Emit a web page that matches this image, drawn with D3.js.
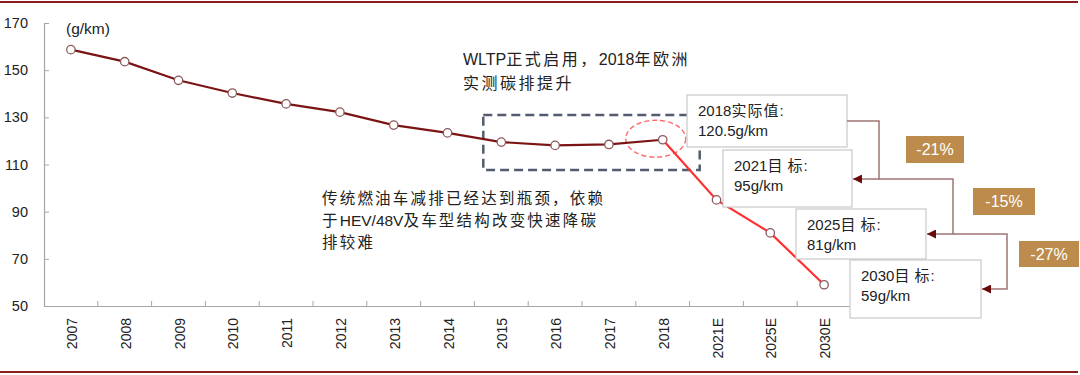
<!DOCTYPE html>
<html>
<head>
<meta charset="utf-8">
<script src="https://cdn.jsdelivr.net/npm/d3@7"></script>
<style>
  body { margin: 0; background: #fff; }
  svg { display: block; font-family: "Liberation Sans", Arial, "Noto Sans CJK SC", sans-serif; }
</style>
</head>
<body>
<div id="chart"></div>
<script>
// categories and values (g/km)
var years = ["2007", "2008", "2009", "2010", "2011", "2012", "2013", "2014", "2015", "2016", "2017", "2018", "2021E", "2025E", "2030E"]
var emissions = [158.7, 153.6, 145.7, 140.3, 135.7, 132.2, 126.7, 123.4, 119.5, 118.1, 118.5, 120.5, 95, 81, 59]
var yTicks = [50, 70, 90, 110, 130, 150, 170]

var noteLines = [["2018实际值:", "120.5g/km"], ["2021目 标:", "95g/km"], ["2025目 标:", "81g/km"], ["2030目 标:", "59g/km"]]
var changeLabels = ["-21%", "-15%", "-27%"]

var width = 1080,
  height = 375

var svg = d3.select("#chart").append("svg")
  .attr("width", width)
  .attr("height", height)

var x = d3.scaleBand()
  .domain(years)
  .range([44, 851])

var y = d3.scaleLinear()
  .domain([50, 170])
  .range([306, 23])

function cx(d) { return x(d) + x.bandwidth() / 2 }

// frame lines top / bottom
svg.append("line").attr("x1", 0).attr("x2", 1078).attr("y1", 2).attr("y2", 2)
  .attr("stroke", "#8a1c1c").attr("stroke-width", 2)
svg.append("line").attr("x1", 0).attr("x2", 1078).attr("y1", 372).attr("y2", 372)
  .attr("stroke", "#8a1c1c").attr("stroke-width", 2)

// y axis
var yAxis = svg.append("g")
  .attr("transform", "translate(44,0)")
  .call(d3.axisLeft(y).tickValues(yTicks).tickSize(-5).tickPadding(16))
yAxis.select(".domain").attr("stroke", "#a6a6a6").attr("stroke-width", 1.2)
yAxis.selectAll(".tick line").attr("stroke", "#a6a6a6")
yAxis.selectAll("text").attr("font-size", 14.5).attr("fill", "#222")

// x axis (ticks between categories)
var xAxis = svg.append("g")
  .attr("transform", "translate(0,306)")
  .call(d3.axisBottom(x).tickSize(0).tickPadding(0))
xAxis.select(".domain").attr("stroke", "#a6a6a6").attr("stroke-width", 1.2)
xAxis.selectAll(".tick text")
  .attr("font-size", 14)
  .attr("fill", "#222")
  .attr("text-anchor", "end")
  .attr("dy", null)
  .attr("transform", "translate(6,12) rotate(-90)")

svg.append("g").selectAll("line")
  .data(years.slice(1))
  .enter().append("line")
  .attr("x1", d => x(d)).attr("x2", d => x(d))
  .attr("y1", 306).attr("y2", 301)
  .attr("stroke", "#a6a6a6")

svg.append("text")
  .attr("x", 66).attr("y", 34)
  .attr("font-size", 15.5).attr("fill", "#222")
  .text("(g/km)")

// data points
var points = years.map((d, i) => ({ year: d, value: emissions[i] }))
var hist = points.slice(0, 12),
  target = points.slice(11)

var line = d3.line()
  .x(d => cx(d.year))
  .y(d => y(d.value))

// dashed box around 2015-2018
svg.append("rect")
  .attr("x", cx("2015") - 18).attr("y", 115)
  .attr("width", cx("2018") + 37 - (cx("2015") - 18)).attr("height", 55)
  .attr("fill", "none")
  .attr("stroke", "#525c6e")
  .attr("stroke-width", 2.5)
  .attr("stroke-dasharray", "9,5")

svg.append("ellipse")
  .attr("cx", cx("2018") - 7).attr("cy", y(120.5) - 1)
  .attr("rx", 30).attr("ry", 18.5)
  .attr("fill", "none")
  .attr("stroke", "#ff6b6b")
  .attr("stroke-width", 1.4)
  .attr("stroke-dasharray", "5,3")

svg.append("path").datum(hist)
  .attr("d", line)
  .attr("fill", "none")
  .attr("stroke", "#7b1414")
  .attr("stroke-width", 2.2)

svg.append("path").datum(target)
  .attr("d", line)
  .attr("fill", "none")
  .attr("stroke", "#ff3030")
  .attr("stroke-width", 2.2)

svg.append("g").selectAll("circle")
  .data(points)
  .enter().append("circle")
  .attr("cx", d => cx(d.year))
  .attr("cy", d => y(d.value))
  .attr("r", 4.2)
  .attr("fill", "#fff")
  .attr("stroke", "#8a5a5a")
  .attr("stroke-width", 1.3)

// text with extra spacing on CJK runs (the original uses a wide song-style font)
function spaced(parent, str, spacing) {
  var runs = str.match(/[\u3000-\u9fff\uff00-\uffef]+|[^\u3000-\u9fff\uff00-\uffef]+/g)
  runs.forEach(r => {
    var t = parent.append("tspan").text(r)
    if (/[\u3000-\u9fff\uff00-\uffef]/.test(r)) t.attr("letter-spacing", spacing)
  })
}
function multiline(lines, px, py, lh, size, spacing) {
  lines.forEach((l, i) => {
    var t = svg.append("text")
      .attr("x", px).attr("y", py + i * lh)
      .attr("font-size", size).attr("fill", "#222")
    spaced(t, l, spacing)
  })
}
multiline(["WLTP正式启用，2018年欧洲", "实测碳排提升"], 463, 65, 24, 16, 2.5)
multiline(["传统燃油车减排已经达到瓶颈，依赖", "于HEV/48V及车型结构改变快速降碳", "排较难"], 322, 204, 22, 15.5, 2.2)

// annotation boxes
var boxes = [
  { x: 687, y: 95, w: 160, h: 52 },
  { x: 723, y: 150, w: 129, h: 57 },
  { x: 796, y: 209, w: 130, h: 50 },
  { x: 850, y: 260, w: 131, h: 58 }
]
boxes.forEach((b, i) => {
  svg.append("rect")
    .attr("x", b.x).attr("y", b.y).attr("width", b.w).attr("height", b.h)
    .attr("fill", "#fff").attr("stroke", "#c8c8c8").attr("stroke-width", 1.2)
  var t1 = svg.append("text").attr("x", b.x + 11).attr("y", b.y + 21)
    .attr("font-size", 15).attr("fill", "#222")
  spaced(t1, noteLines[i][0], 1)
  svg.append("text").attr("x", b.x + 11).attr("y", b.y + 41)
    .attr("font-size", 15).attr("fill", "#222")
    .text(noteLines[i][1])
})

// connectors
svg.append("defs").append("marker")
  .attr("id", "arr")
  .attr("viewBox", "0 0 10 10")
  .attr("refX", 10).attr("refY", 5)
  .attr("markerWidth", 9).attr("markerHeight", 9)
  .attr("markerUnits", "userSpaceOnUse")
  .attr("orient", "auto")
  .append("path").attr("d", "M0,0 L10,5 L0,10 Z").attr("fill", "#6b0a0a")

var connectors = [
  [[847, 121], [879, 121], [879, 179], [853, 179]],
  [[879, 179], [953, 179], [953, 234], [927, 234]],
  [[953, 234], [1007, 234], [1007, 289], [982, 289]]
]
connectors.forEach(c => {
  svg.append("path")
    .attr("d", d3.line()(c))
    .attr("fill", "none")
    .attr("stroke", "#a07474")
    .attr("stroke-width", 1.5)
    .attr("marker-end", "url(#arr)")
})

var badges = [
  { x: 906, y: 136, w: 58, h: 27 },
  { x: 973, y: 188, w: 62, h: 27 },
  { x: 1019, y: 241, w: 60, h: 26 }
]
badges.forEach((b, i) => {
  svg.append("rect")
    .attr("x", b.x).attr("y", b.y).attr("width", b.w).attr("height", b.h)
    .attr("fill", "#bd8c4c")
  svg.append("text")
    .attr("x", b.x + b.w / 2).attr("y", b.y + b.h / 2 + 5.5)
    .attr("text-anchor", "middle")
    .attr("font-size", 16).attr("fill", "#fff")
    .text(changeLabels[i])
})
</script>
</body>
</html>
